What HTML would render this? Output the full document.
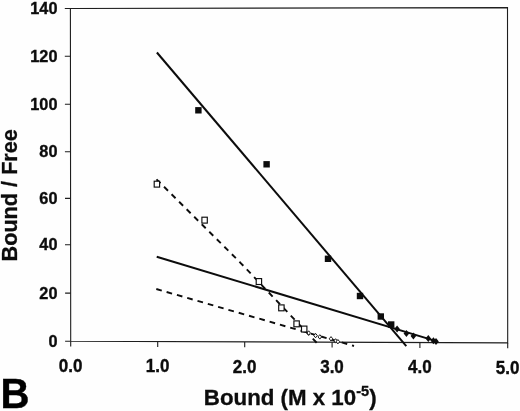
<!DOCTYPE html>
<html><head><meta charset="utf-8"><title>Scatchard plot B</title>
<style>
html,body{margin:0;padding:0;background:#fefefe;}
body{width:520px;height:411px;overflow:hidden;}
svg{display:block;}
text{font-family:"Liberation Sans",Arial,Helvetica,sans-serif;font-weight:bold;fill:#0c0c0c;}
.tk{font-size:16.3px;stroke:#0c0c0c;stroke-width:0.35px;}
.tx{font-size:17px;}
.ax{font-size:22.3px;stroke:#0c0c0c;stroke-width:0.3px;}
</style></head><body>
<svg width="520" height="411" viewBox="0 0 520 411">
<rect width="520" height="411" fill="#fefefe"/>
<g stroke="#1e1e1e" stroke-width="1.1" fill="none">
<path d="M70.4 8.5L507.5 7.6L507.7 342.9L70.7 341.2Z"/>
<path d="M64.8 8.5H70.4M64.8 56.2H70.4M64.9 104.2H70.5M64.9 151.7H70.5M65.0 198.4H70.6M65.0 244.8H70.6M65.1 293.1H70.7M65.1 341.2H70.7"/>
<path d="M70.7 341.2V346.6M157.7 341.5V346.9M244.7 341.9V347.3M332.1 342.2V347.6M419.9 342.6V348.0M507.7 342.9V348.3"/>
</g>
<g class="tk" text-anchor="end">
<text transform="translate(57.5,14.0) scale(1,1.035)">140</text>
<text transform="translate(57.5,61.7) scale(1,1.035)">120</text>
<text transform="translate(57.5,109.7) scale(1,1.035)">100</text>
<text transform="translate(57.5,157.2) scale(1,1.035)">80</text>
<text transform="translate(57.5,203.9) scale(1,1.035)">60</text>
<text transform="translate(57.5,250.3) scale(1,1.035)">40</text>
<text transform="translate(57.5,298.6) scale(1,1.035)">20</text>
<text transform="translate(57.5,346.7) scale(1,1.035)">0</text>
</g>
<g class="tk tx" text-anchor="middle">
<text transform="translate(70.6,372.0) scale(1,1.06)">0.0</text>
<text transform="translate(157.6,372.3) scale(1,1.06)">1.0</text>
<text transform="translate(244.6,372.7) scale(1,1.06)">2.0</text>
<text transform="translate(332.0,373.0) scale(1,1.06)">3.0</text>
<text transform="translate(419.8,373.4) scale(1,1.06)">4.0</text>
<text transform="translate(507.6,373.7) scale(1,1.06)">5.0</text>
</g>
<text class="ax" x="203.8" y="404.9">Bound (M x 10<tspan font-size="14.6" dy="-9.3">-5</tspan><tspan dy="9.3">)</tspan></text>
<text class="ax" transform="translate(16.8,195.3) rotate(-90) scale(1.008,1)" text-anchor="middle" style="font-size:21.5px">Bound / Free</text>
<text transform="translate(0.6,408.1) scale(0.96,1)" font-size="41.8" style="fill:#000;stroke:#000;stroke-width:0.4px">B</text>
<g stroke="#0c0c0c" stroke-width="2" fill="none" stroke-linecap="butt">
<line x1="156.9" y1="52.5" x2="406.3" y2="346.1"/>
<line x1="156.7" y1="256.8" x2="437" y2="341.4"/>
<path d="M156.5 179.3L240.5 262.8L316.8 342.9" stroke-width="1.9" stroke-dasharray="5.6 5.03"/>
<line x1="156.3" y1="289" x2="354" y2="346" stroke-width="1.9" stroke-dasharray="5.7 5.02"/>
</g>
<g fill="#0c0c0c">
<rect x="195.2" y="107.1" width="6.4" height="6.4"/>
<rect x="263.4" y="161.1" width="6.4" height="6.4"/>
<rect x="324.8" y="255.6" width="6.4" height="6.4"/>
<rect x="356.8" y="292.8" width="6.4" height="6.4"/>
<rect x="377.6" y="313.3" width="6.4" height="6.4"/>
<rect x="388.0" y="321.3" width="6.4" height="6.4"/>
<path d="M397.1 325.5l2.8 3.5l-2.8 3.5l-2.8-3.5z"/>
<path d="M406.4 329.9l2.8 3.5l-2.8 3.5l-2.8-3.5z"/>
<path d="M413.4 332.5l2.8 3.5l-2.8 3.5l-2.8-3.5z"/>
<path d="M428.3 335.1l2.8 3.5l-2.8 3.5l-2.8-3.5z"/>
<path d="M433.4 337.2l2.8 3.5l-2.8 3.5l-2.8-3.5z"/>
<path d="M436.0 338.1l2.8 3.5l-2.8 3.5l-2.8-3.5z"/>
</g>
<g fill="#fefefe" stroke="#0c0c0c" stroke-width="1.15">
<rect x="154.2" y="181.2" width="5.4" height="5.9"/>
<rect x="201.9" y="217.2" width="5.4" height="5.9"/>
<rect x="256.2" y="278.6" width="5.4" height="5.9"/>
<rect x="278.7" y="304.9" width="5.4" height="5.9"/>
<rect x="293.9" y="320.9" width="5.4" height="5.9"/>
<rect x="301.5" y="326.1" width="5.4" height="5.9"/>
<path d="M308.7 330.8l1.75 2.2l-1.75 2.2l-1.75-2.2z" stroke-width="0.95"/>
<path d="M315.6 333.4l1.75 2.2l-1.75 2.2l-1.75-2.2z" stroke-width="0.95"/>
<path d="M319.8 334.7l1.75 2.2l-1.75 2.2l-1.75-2.2z" stroke-width="0.95"/>
<path d="M331.0 336.6l1.75 2.2l-1.75 2.2l-1.75-2.2z" stroke-width="0.95"/>
<path d="M335.6 338.7l1.75 2.2l-1.75 2.2l-1.75-2.2z" stroke-width="0.95"/>
<path d="M337.9 339.5l1.75 2.2l-1.75 2.2l-1.75-2.2z" stroke-width="0.95"/>
</g>
</svg>
</body></html>
